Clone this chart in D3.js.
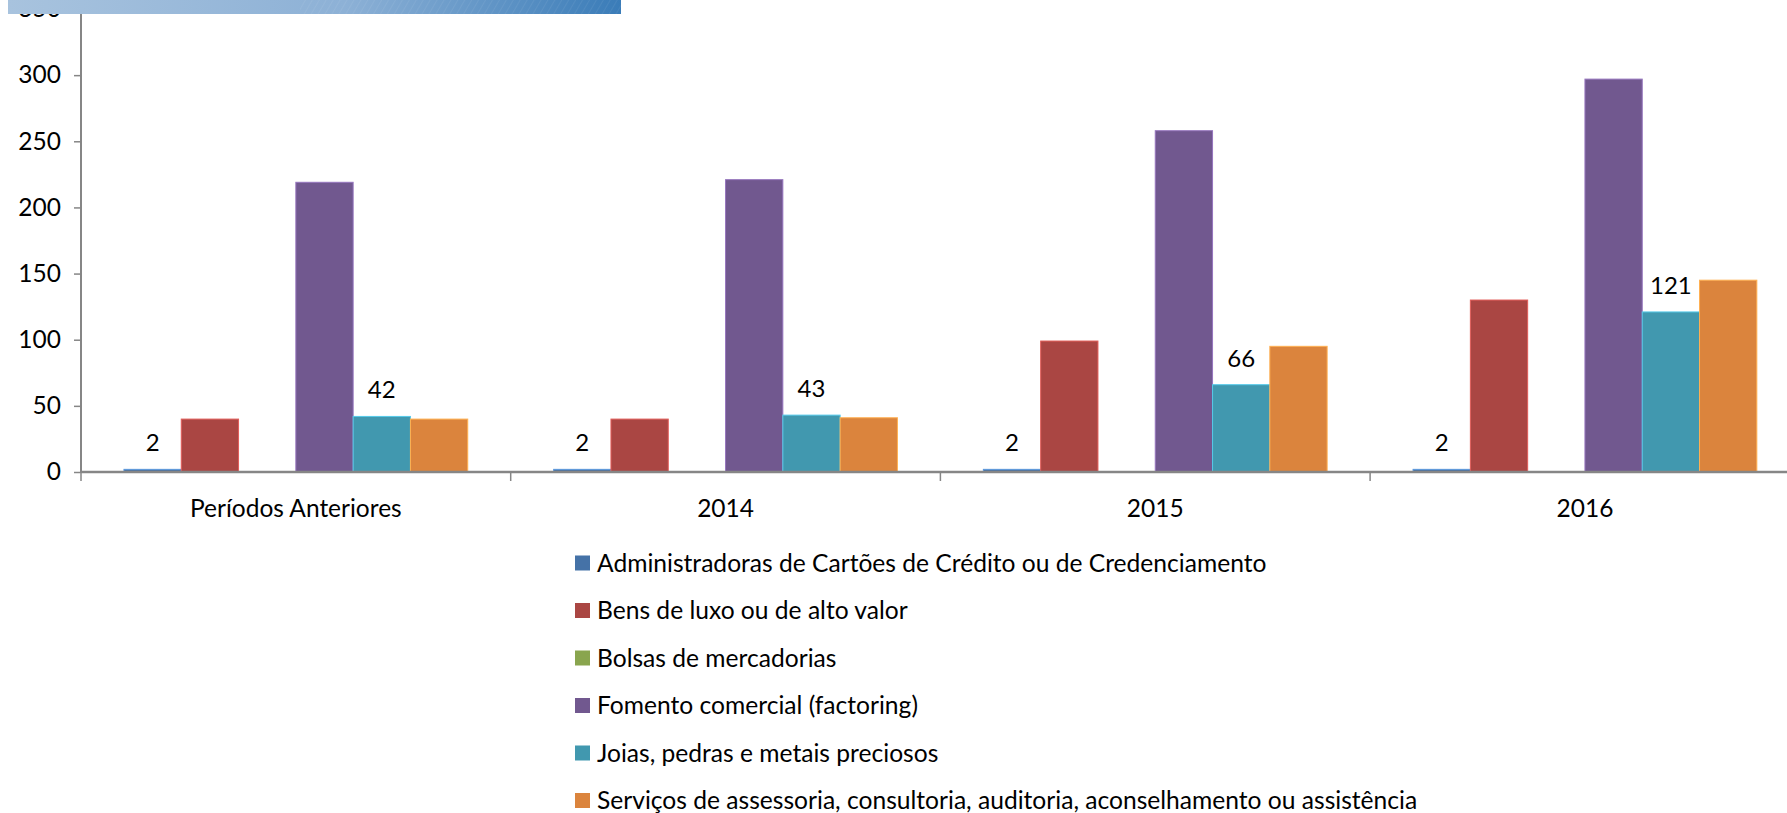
<!DOCTYPE html>
<html>
<head>
<meta charset="utf-8">
<script src="https://cdn.jsdelivr.net/npm/d3@7"></script>
<style>
  body { margin: 0; background: #fff; }
  text { font-family: Lato, "Open Sans", sans-serif; fill: #000; }
</style>
</head>
<body>
<svg width="1787" height="813"></svg>
<script>
// categorias e séries
const categories = ["Períodos Anteriores", "2014", "2015", "2016"];
const seriesNames = [
    "Administradoras de Cartões de Crédito ou de Credenciamento",
    "Bens de luxo ou de alto valor",
    "Bolsas de mercadorias",
    "Fomento comercial (factoring)",
    "Joias, pedras e metais preciosos",
    "Serviços de assessoria, consultoria, auditoria, aconselhamento ou assistência"
];
const administradoras = [2, 2, 2, 2];
const bensLuxo = [40, 40, 99, 130];
const bolsas = [0, 0, 0, 0];
const fomento = [219, 221, 258, 297];
const joias = [42, 43, 66, 121];
const servicos = [40, 41, 95, 145];
const yTicks = [0, 50, 100, 150, 200, 250, 300, 350];
const colors = ["#4572A7", "#AA4643", "#89A54E", "#71588F", "#4198AF", "#DB843D"];
// só estas séries têm rótulo de valor
const labelled = [0, 4];

const seriesValues = [administradoras, bensLuxo, bolsas, fomento, joias, servicos];

const svg = d3.select("svg");

const left = 81, zeroY = 472, topY = 9;
const catWidth = 429.7;

const x0 = d3.scaleBand()
    .domain(categories)
    .range([left, left + catWidth * categories.length])
    .padding(0);

const x1 = d3.scaleBand()
    .domain(d3.range(seriesNames.length))
    .range([0, x0.bandwidth()])
    .paddingInner(0)
    .paddingOuter(0.75);

const y = d3.scaleLinear()
    .domain([0, 350])
    .range([zeroY, topY]);

// barras
const groups = svg.append("g")
    .selectAll("g")
    .data(categories)
    .enter().append("g")
    .attr("transform", d => `translate(${x0(d)},0)`);

groups.selectAll("rect")
    .data((c, ci) => seriesValues.map((vals, si) => ({si, v: vals[ci]})))
    .enter().append("rect")
    .attr("x", d => x1(d.si))
    .attr("y", d => y(d.v))
    .attr("width", x1.bandwidth())
    .attr("height", d => zeroY - y(d.v))
    .attr("fill", d => colors[d.si])
    .attr("stroke", d => d3.color(colors[d.si]).brighter(0.8))
    .attr("stroke-width", d => d.v > 0 ? 1 : 0);

// rótulos de valor
groups.selectAll("text.lbl")
    .data((c, ci) => labelled.map(si => ({si, v: seriesValues[si][ci]})))
    .enter().append("text")
    .attr("class", "lbl")
    .attr("x", d => x1(d.si) + x1.bandwidth() / 2)
    .attr("y", d => y(d.v) - 18)
    .attr("text-anchor", "middle")
    .style("font-size", "24px")
    .text(d => d.v);

// eixo Y
const yAxis = svg.append("g")
    .attr("transform", `translate(${left},0)`)
    .call(d3.axisLeft(y).tickValues(yTicks).tickSize(7).tickPadding(13));
yAxis.select(".domain").attr("stroke", "#868686").attr("stroke-width", 2)
    .attr("d", `M0,0V${zeroY}`);
yAxis.selectAll(".tick line").attr("stroke", "#868686").attr("stroke-width", 1.5);
yAxis.selectAll(".tick text").style("font-size", "24.5px").attr("fill", "#000");

// eixo X
const xAxis = svg.append("g")
    .attr("transform", `translate(0,${zeroY})`);
xAxis.append("line")
    .attr("x1", left).attr("x2", x0.range()[1])
    .attr("stroke", "#868686").attr("stroke-width", 2.5);
xAxis.selectAll("line.sep")
    .data(categories.concat(["end"]))
    .enter().append("line")
    .attr("class", "sep")
    .attr("x1", (d, i) => left + i * x0.step())
    .attr("x2", (d, i) => left + i * x0.step())
    .attr("y1", 0).attr("y2", 9)
    .attr("stroke", "#868686").attr("stroke-width", 1.5);
xAxis.selectAll("text")
    .data(categories)
    .enter().append("text")
    .attr("x", d => x0(d) + x0.bandwidth() / 2)
    .attr("y", 45)
    .attr("text-anchor", "middle")
    .style("font-size", "24.5px")
    .text(d => d);

// legenda
const legend = svg.append("g")
    .selectAll("g")
    .data(seriesNames)
    .enter().append("g")
    .attr("transform", (d, i) => `translate(575,${563 + i * 47.5})`);
legend.append("rect")
    .attr("x", 0).attr("y", -7.5)
    .attr("width", 15).attr("height", 15)
    .attr("fill", (d, i) => colors[i]);
legend.append("text")
    .attr("x", 22)
    .attr("dy", "0.35em")
    .style("font-size", "24.6px")
    .text(d => d);

// faixa azul no topo
const defs = svg.append("defs");
const grad = defs.append("linearGradient").attr("id", "banner");
grad.append("stop").attr("offset", "0%").attr("stop-color", "#a8c3de");
grad.append("stop").attr("offset", "55%").attr("stop-color", "#8db1d6");
grad.append("stop").attr("offset", "100%").attr("stop-color", "#3a7cb8");
const pat = defs.append("pattern").attr("id", "hatch")
    .attr("width", 6).attr("height", 6)
    .attr("patternUnits", "userSpaceOnUse")
    .attr("patternTransform", "rotate(30)");
pat.append("line").attr("x1", 0).attr("y1", 0).attr("x2", 0).attr("y2", 6)
    .attr("stroke", "#ffffff").attr("stroke-opacity", 0.12).attr("stroke-width", 1);
svg.append("rect").attr("x", 8).attr("y", 0).attr("width", 613).attr("height", 14)
    .attr("fill", "url(#banner)");
svg.append("rect").attr("x", 300).attr("y", 0).attr("width", 321).attr("height", 14)
    .attr("fill", "url(#hatch)");
</script>
</body>
</html>
